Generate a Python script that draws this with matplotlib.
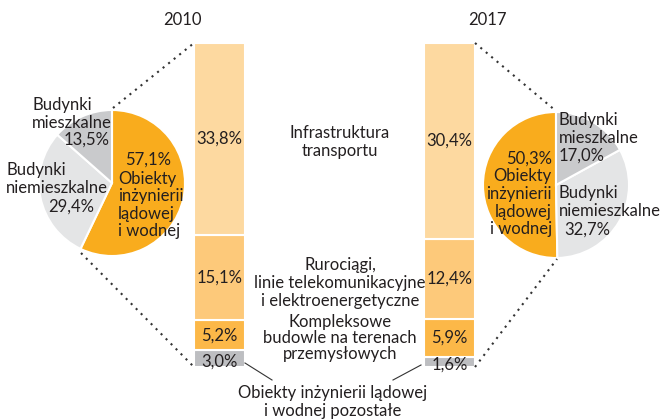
import matplotlib
matplotlib.use("Agg")
import matplotlib.pyplot as plt

plt.rcParams['font.family'] = ['Lato', 'DejaVu Sans']

# --- data ---------------------------------------------------------------
years = ["2010", "2017"]

# pie: structure of construction output (%)
pie_labels = ["Obiekty inżynierii lądowej i wodnej", "Budynki niemieszkalne", "Budynki mieszkalne"]
pie_2010 = [57.1, 29.4, 13.5]
pie_2017 = [50.3, 32.7, 17.0]

# bar: breakdown of civil engineering works (%), top to bottom
bar_labels = ["Infrastruktura\ntransportu",
              "Rurociągi,\nlinie telekomunikacyjne\ni elektroenergetyczne",
              "Kompleksowe\nbudowle na terenach\nprzemysłowych",
              "Obiekty inżynierii lądowej\ni wodnej pozostałe"]
bar_2010 = [33.8, 15.1, 5.2, 3.0]
bar_2017 = [30.4, 12.4, 5.9, 1.6]

# --- styling ------------------------------------------------------------
W, H = 664, 419
pie_colors = ["#f9ac1d", "#e4e5e6", "#c9cacc"]
bar_colors = ["#fdd9a0", "#fdc97a", "#fcb848", "#bdbec1"]
txt = "#231f20"
fs = 12


def Y(p):
    """convert a pixel row (from top) to axis y"""
    return H - p


def pct(v):
    return f"{v:.1f}".replace(".", ",") + "%"


fig = plt.figure(figsize=(W / 100, H / 100), dpi=100)
ax = fig.add_axes([0, 0, 1, 1])

# pies
R = 73
c_left = (112, Y(183))
c_right = (556, Y(185))
ax.pie(pie_2010, colors=pie_colors, startangle=90, counterclock=False,
       center=c_left, radius=R,
       wedgeprops=dict(edgecolor="white", linewidth=1.5))
ax.pie(pie_2017, colors=pie_colors, startangle=90, counterclock=True,
       center=c_right, radius=R,
       wedgeprops=dict(edgecolor="white", linewidth=1.5))

# stacked bars, each normalised to the same total height
bar_top, bar_bot = Y(43), Y(367)
bar_h = bar_top - bar_bot
bar_w = 51
bar_x = [219.5, 449.5]
for xc, vals in zip(bar_x, [bar_2010, bar_2017]):
    total = sum(vals)
    bottom = bar_bot
    segs = []
    for v, col in zip(reversed(vals), reversed(bar_colors)):
        h = v / total * bar_h
        ax.bar(xc, h, width=bar_w, bottom=bottom, color=col,
               edgecolor="white", linewidth=1.5)
        segs.append((v, bottom + h / 2))
        bottom += h
    for i, (v, yc) in enumerate(segs):
        dy = -3 if i == 0 else 0
        ax.text(xc, yc + dy, pct(v), ha="center", va="center",
                fontsize=fs, color=txt)

# dotted connectors pie -> bar
dot = dict(color="#333333", linestyle=(0, (1, 2.4)), linewidth=1.5)
bl, br = bar_x[0] - bar_w / 2, bar_x[1] + bar_w / 2
ax.plot([113, bl], [Y(108), bar_top], **dot)
ax.plot([81, bl], [Y(253), bar_bot], **dot)
ax.plot([br, 556], [bar_top, Y(111)], **dot)
ax.plot([br, 557], [bar_bot, Y(259)], **dot)

# leader lines for the smallest category
ax.plot([245, 272], [Y(363), Y(380)], color="#333333", linewidth=0.8)
ax.plot([421, 393], [Y(365), Y(380)], color="#333333", linewidth=0.8)

# year titles
ax.text(182, Y(20), years[0], ha="center", va="center", fontsize=fs, color=txt)
ax.text(487, Y(20), years[1], ha="center", va="center", fontsize=fs, color=txt)

# category names between bars
ls = 1.12
for lab, (x, y) in zip(bar_labels, [(340, 142), (340, 283), (340, 338), (333, 402)]):
    ax.text(x, Y(y), lab, ha="center", va="center", fontsize=fs,
            color=txt, linespacing=ls if y != 338 else 1.0)

# pie labels 2010
ax.text(32, Y(114), "Budynki\nmieszkalne", ha="left", va="center",
        fontsize=fs, color=txt, linespacing=ls)
ax.text(110, Y(140), pct(pie_2010[2]), ha="right", va="center", fontsize=fs, color=txt)
ax.text(6, Y(179), "Budynki\nniemieszkalne", ha="left", va="center",
        fontsize=fs, color=txt, linespacing=ls)
ax.text(71, Y(207), pct(pie_2010[1]), ha="center", va="center", fontsize=fs, color=txt)
ax.text(125, Y(160), pct(pie_2010[0]), ha="left", va="center", fontsize=fs, color=txt)
ax.text(118, Y(205), "Obiekty\ninżynierii\nlądowej\ni wodnej", ha="left", va="center",
        fontsize=fs, color=txt, linespacing=ls)

# pie labels 2017
ax.text(552, Y(194), pct(pie_2017[0]) + "\nObiekty\ninżynierii\nlądowej\ni wodnej",
        ha="right", va="center", fontsize=fs, color=txt, linespacing=ls)
ax.text(559, Y(138), "Budynki\nmieszkalne\n" + pct(pie_2017[2]), ha="left", va="center",
        fontsize=fs, color=txt, linespacing=ls)
ax.text(559, Y(202), "Budynki\nniemieszkalne", ha="left", va="center",
        fontsize=fs, color=txt, linespacing=ls)
ax.text(587, Y(230), pct(pie_2017[1]), ha="center", va="center", fontsize=fs, color=txt)

ax.set_xlim(0, W)
ax.set_ylim(0, H)
ax.set_aspect("auto")
ax.axis("off")

fig.savefig("out.png", dpi=100)
